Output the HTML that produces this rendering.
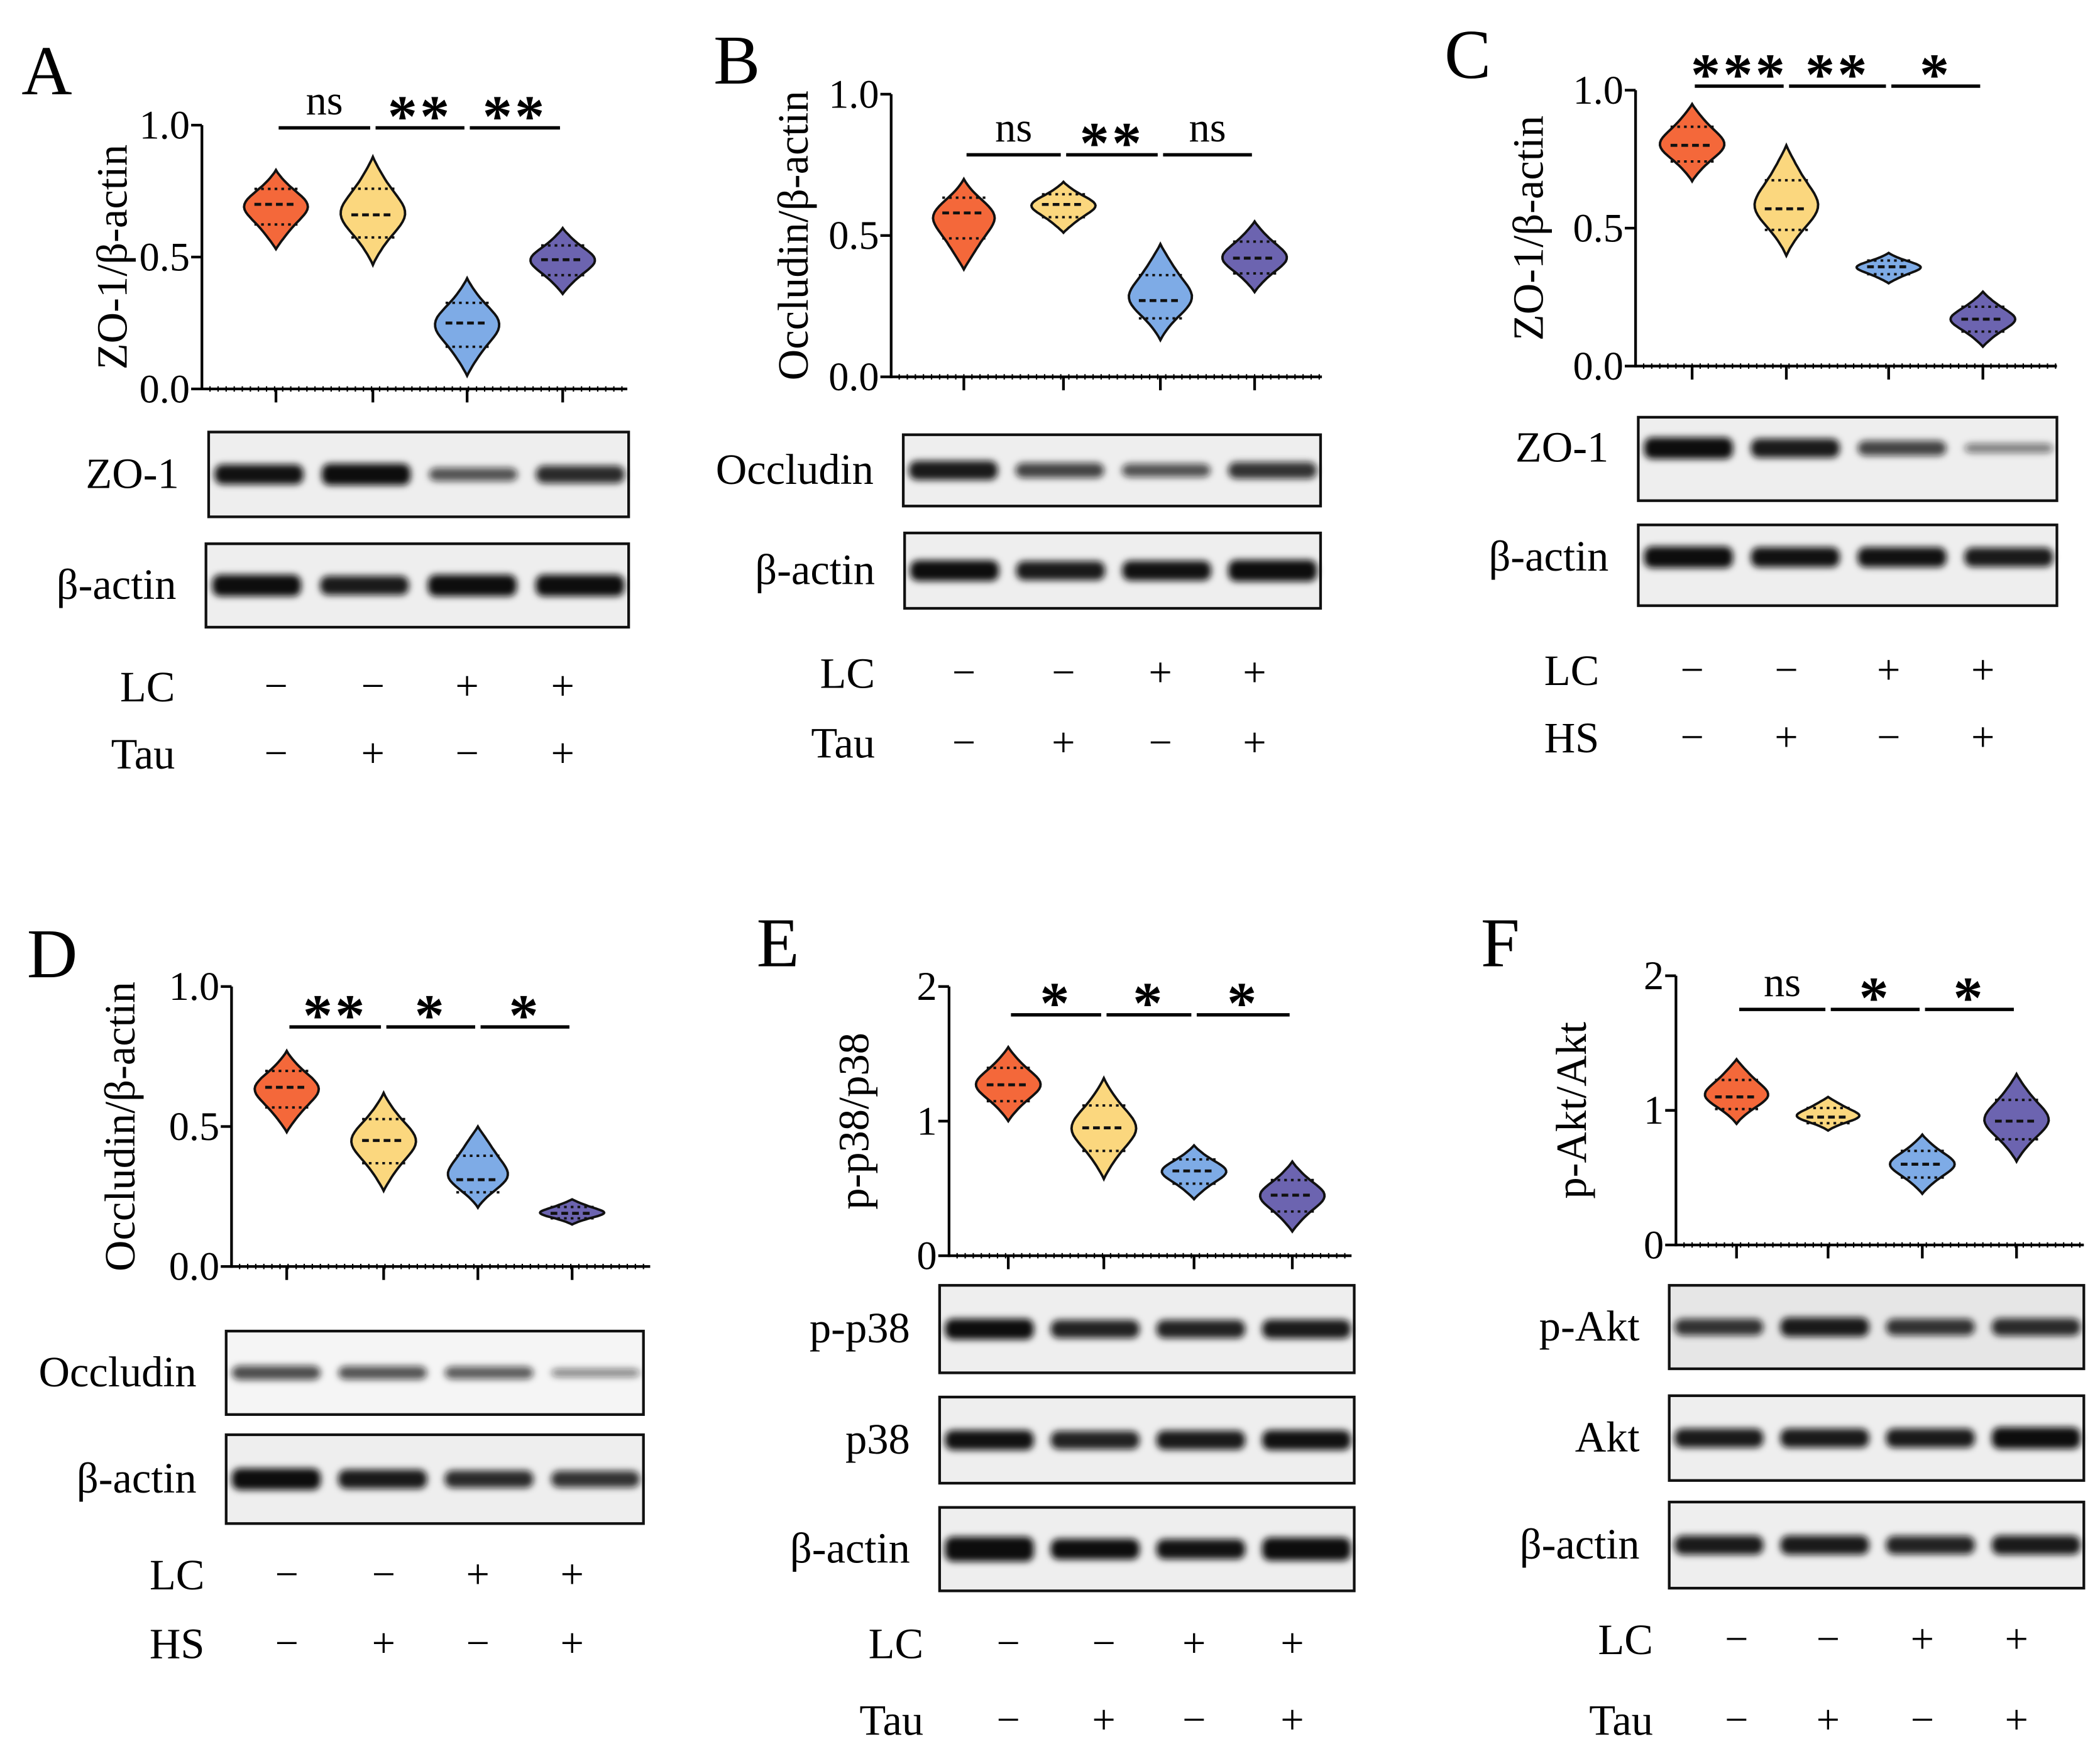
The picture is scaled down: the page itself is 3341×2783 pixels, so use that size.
<!DOCTYPE html>
<html><head><meta charset="utf-8"><style>
html,body{margin:0;padding:0;background:#fff}
svg{display:block}
text{font-family:"Liberation Serif",serif;fill:#000}
</style></head><body>
<svg id="fig" width="3341" height="2783" viewBox="0 0 1560 1299.5" preserveAspectRatio="none" xmlns="http://www.w3.org/2000/svg">
<defs><filter id="blur" x="-20%" y="-100%" width="140%" height="300%"><feGaussianBlur stdDeviation="2.5"/></filter></defs>
</svg>
<script>
// ---- data ----
const colors = ["#f4683a","#fbd77e","#7eabe6","#6c64b0"];
const medA = [0.70,0.66,0.25,0.49], loA=[0.53,0.47,0.05,0.36], hiA=[0.83,0.88,0.42,0.61];
const medB = [0.58,0.61,0.27,0.42], loB=[0.38,0.51,0.13,0.30], hiB=[0.70,0.69,0.47,0.55];
const medC = [0.80,0.57,0.36,0.17], loC=[0.67,0.40,0.30,0.07], hiC=[0.95,0.80,0.41,0.27];
const medD = [0.64,0.45,0.31,0.19], loD=[0.48,0.27,0.21,0.15], hiD=[0.77,0.62,0.50,0.24];
const medE = [1.27,0.95,0.63,0.45], loE=[1.00,0.57,0.42,0.18], hiE=[1.55,1.32,0.82,0.70];
const medF = [1.10,0.95,0.60,0.92], loF=[0.90,0.85,0.38,0.62], hiF=[1.38,1.10,0.82,1.27];
const ticks1 = ["0.0","0.5","1.0"], tickV1=[0,0.5,1];
const ticks2 = ["0","1","2"], tickV2=[0,1,2];
const sigA=["ns","**","**"], sigB=["ns","**","ns"], sigC=["***","**","*"], sigD=["**","*","*"], sigE=["*","*","*"], sigF=["ns","*","*"];
const lcSigns=["−","−","+","+"], trtSigns=["−","+","−","+"];

const svg=document.getElementById('fig');
const NS="http://www.w3.org/2000/svg";
function mk(tag,attrs,parent){const e=document.createElementNS(NS,tag);for(const k in attrs)e.setAttribute(k,attrs[k]);(parent||svg).appendChild(e);return e;}
function txt(s,x,y,size,anchor,parent,rot){const t=mk('text',{x:x,y:y,'font-size':size,'text-anchor':anchor||'middle'},parent);if(rot)t.setAttribute('transform','rotate(-90 '+x+' '+y+')');t.textContent=s;return t;}

function panel(p){
  const g=mk('g',{});
  
  
  const L=txt(p.letter,p.lx,p.ly,52,'start',g);
  
  
  const yS=v=>p.y0+(p.y1-p.y0)*(v/p.vmax);
  const ax=mk('g',{},g);
  
  
  mk('line',{x1:p.ax,x2:p.ax,y1:yS(p.vmax),y2:p.y0+1,stroke:'#000','stroke-width':2},ax);
  p.tv.forEach((v,i)=>{mk('line',{x1:p.ax-8,x2:p.ax,y1:yS(v),y2:yS(v),stroke:'#000','stroke-width':2},ax);
    txt(p.tl[i],p.ax-9,yS(v)+10,30,'end',ax);});
  const yl=txt(p.ylab,p.ylx,(p.y0+yS(p.vmax))/2,32,'middle',g,true);
  
  
  const xa=mk('g',{},g);
  
  
  mk('line',{x1:p.ax,x2:p.xe,y1:p.y0,y2:p.y0,stroke:'#000','stroke-width':2},xa);
  for(let x=p.ax+6;x<p.xe;x+=6)mk('line',{x1:x,x2:x,y1:p.y0-2,y2:p.y0+2,stroke:'#000','stroke-width':1},xa);
  p.xs.forEach(x=>mk('line',{x1:x,x2:x,y1:p.y0,y2:p.y0+10,stroke:'#000','stroke-width':2},xa));
  p.xs.forEach((x,i)=>{
    const lo=p.lo[i],hi=p.hi[i],m=p.med[i];const W=24;
    const pts=[];const N=30;
    for(let k=0;k<=N;k++){const t=lo+(hi-lo)*k/N;const u=k/N;
      let w=Math.pow(Math.sin(Math.PI*u),1.1);
      const d=(t-m)/(hi-lo);w=w*(0.6+0.4*Math.exp(-d*d*18));
      pts.push([x+W*w,yS(t)]);}
    const left=pts.slice().reverse().map(q=>[2*x-q[0],q[1]]);
    const d='M'+pts.concat(left).map(q=>q[0].toFixed(1)+','+q[1].toFixed(1)).join(' L')+'Z';
    const v=mk('path',{d:d,fill:colors[i],stroke:'#111','stroke-width':1.8},g);
    
    
    const q1=m-(m-lo)*0.45,q3=m+(hi-m)*0.45;
    [[m,'5,3',2.2],[q1,'2,3',1.8],[q3,'2,3',1.8]].forEach(a=>mk('line',{x1:x-16,x2:x+16,y1:yS(a[0]),y2:yS(a[0]),stroke:'#111','stroke-dasharray':a[1],'stroke-width':a[2]},g));
  });
  for(let i=0;i<3;i++){
    const x1=p.xs[i]+2,x2=p.xs[i+1]-2;
    const sg=mk('g',{},g);
    
    
    mk('line',{x1:x1,x2:x2,y1:p.sy,y2:p.sy,stroke:'#000','stroke-width':2.5},sg);
    const s=p.sig[i];const isStar=s!=='ns';
    const t=txt(s,(x1+x2)/2,p.sy-(isStar?-6:10),isStar?44:31,'middle',sg);
    if(isStar){t.setAttribute('font-weight','bold');t.setAttribute('letter-spacing','2');}
  }
  p.blots.forEach(b=>{
    const bg=mk('g',{},g);
    
    
    mk('rect',{x:b.x1,y:b.y1,width:b.x2-b.x1,height:b.y2-b.y1,fill:b.bg||'#eeeeee',stroke:'#111','stroke-width':2},bg);
    const cy=(b.y1+b.y2)/2+(b.dy||0);
    b.int.forEach((it,k)=>{const cx=b.x1+(b.x2-b.x1)*(0.12+k*0.255);
      mk('rect',{x:cx-33,y:cy-6*it-2,width:66,height:12*it+4,rx:6,fill:'#111','fill-opacity':Math.min(1,0.35+0.7*it),filter:'url(#blur)'},bg);});
    txt(b.name,b.x1-22,cy+10,32,'end',bg);
  });
  [[p.rows[0],lcSigns,'LC'],[p.rows[1],trtSigns,p.trt]].forEach(r=>{
    const rg=mk('g',{},g);
    
    
    txt(r[2],p.condX,r[0]+11,32,'end',rg);
    p.xs.forEach((x,i)=>txt(r[1][i],x,r[0]+10,31,'middle',rg));
  });
}

panel({letter:'A',lx:16,ly:70,ax:150,xe:466,y0:289,y1:93,vmax:1,tv:tickV1,tl:ticks1,ylab:'ZO-1/β-actin',ylx:94,
 xs:[205,277,347,418],med:medA,lo:loA,hi:hiA,sig:sigA,sy:95,
 blots:[{name:'ZO-1',x1:155,y1:321,x2:467,y2:384,int:[0.9,1,0.5,0.75]},{name:'β-actin',x1:153,y1:404,x2:467,y2:466,int:[1,0.85,1,1]}],
 rows:[510,560],trt:'Tau',condX:130});
panel({letter:'B',lx:530,ly:62,ax:662,xe:982,y0:280,y1:70,vmax:1,tv:tickV1,tl:ticks1,ylab:'Occludin/β-actin',ylx:600,
 xs:[716,790,862,932],med:medB,lo:loB,hi:hiB,sig:sigB,sy:115,
 blots:[{name:'Occludin',x1:671,y1:323,x2:981,y2:376,int:[0.85,0.6,0.5,0.7]},{name:'β-actin',x1:672,y1:396,x2:981,y2:452,int:[0.95,0.85,0.9,1]}],
 rows:[500,552],trt:'Tau',condX:650});
panel({letter:'C',lx:1073,ly:58,ax:1215,xe:1528,y0:272,y1:67,vmax:1,tv:tickV1,tl:ticks1,ylab:'ZO-1/β-actin',ylx:1146,
 xs:[1257,1327,1403,1473],med:medC,lo:loC,hi:hiC,sig:sigC,sy:64,
 blots:[{name:'ZO-1',x1:1217,y1:310,x2:1528,y2:372,int:[1,0.85,0.6,0.25],dy:-8},{name:'β-actin',x1:1217,y1:390,x2:1528,y2:450,int:[1,0.9,0.9,0.85],dy:-6}],
 rows:[498,548],trt:'HS',condX:1188});
panel({letter:'D',lx:20,ly:726,ax:172,xe:483,y0:941,y1:733,vmax:1,tv:tickV1,tl:ticks1,ylab:'Occludin/β-actin',ylx:100,
 xs:[213,285,355,425],med:medD,lo:loD,hi:hiD,sig:sigD,sy:763,
 blots:[{name:'Occludin',x1:168,y1:989,x2:478,y2:1051,int:[0.55,0.5,0.45,0.2],bg:'#f5f5f5'},{name:'β-actin',x1:168,y1:1066,x2:478,y2:1132,int:[1,0.85,0.75,0.7]}],
 rows:[1170,1221],trt:'HS',condX:152});
panel({letter:'E',lx:562,ly:718,ax:705,xe:1004,y0:933,y1:733,vmax:2,tv:tickV2,tl:ticks2,ylab:'p-p38/p38',ylx:645,
 xs:[749,820,887,960],med:medE,lo:loE,hi:hiE,sig:sigE,sy:754,
 blots:[{name:'p-p38',x1:698,y1:955,x2:1006,y2:1020,int:[0.95,0.8,0.8,0.85]},{name:'p38',x1:698,y1:1038,x2:1006,y2:1102,int:[0.9,0.8,0.85,0.9]},{name:'β-actin',x1:698,y1:1120,x2:1006,y2:1182,int:[1.2,0.95,0.9,1.1]}],
 rows:[1221,1278],trt:'Tau',condX:686});
panel({letter:'F',lx:1100,ly:718,ax:1245,xe:1548,y0:925,y1:725,vmax:2,tv:tickV2,tl:ticks2,ylab:'p-Akt/Akt',ylx:1178,
 xs:[1290,1358,1428,1498],med:medF,lo:loF,hi:hiF,sig:sigF,sy:750,
 blots:[{name:'p-Akt',x1:1240,y1:955,x2:1548,y2:1017,int:[0.7,0.85,0.7,0.75],bg:'#e6e6e6'},{name:'Akt',x1:1240,y1:1037,x2:1548,y2:1100,int:[0.85,0.85,0.85,1]},{name:'β-actin',x1:1240,y1:1116,x2:1548,y2:1180,int:[0.85,0.85,0.8,0.85]}],
 rows:[1218,1278],trt:'Tau',condX:1228});
</script>
</body></html>
